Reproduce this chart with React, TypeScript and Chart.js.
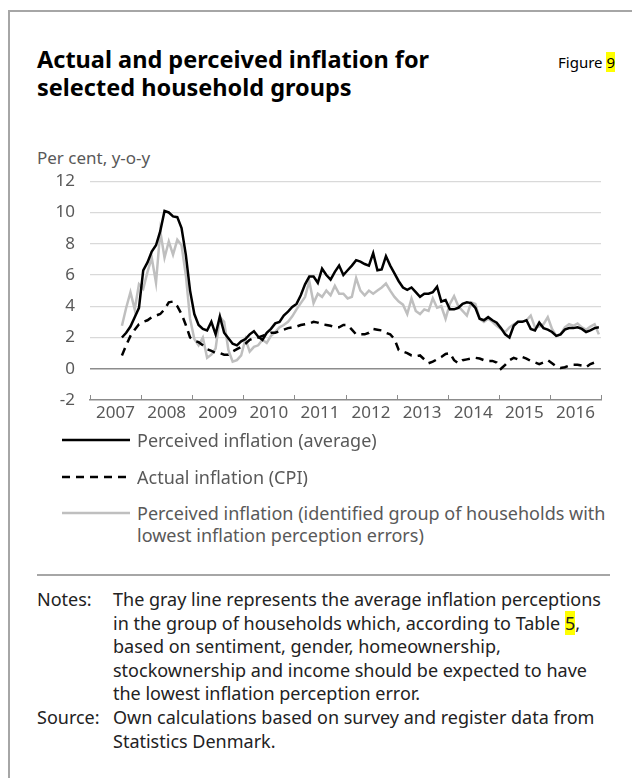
import React, { useEffect, useRef } from 'react';
import { Chart, registerables } from 'chart.js';

Chart.register(...registerables);

// Year labels on the x axis (axis runs Jan 2007 .. Dec 2016, monthly)
const yearLabels = ['2007', '2008', '2009', '2010', '2011', '2012', '2013', '2014', '2015', '2016'];
const monthsOnAxis = 120;
// first observation: Aug 2007 (month index 7 counted from Jan 2007)
const firstMonthIndex = 7;

// Perceived inflation (average), monthly Aug 2007 - Dec 2016
const perceivedAverage = [
  2.0, 2.3, 2.7, 3.3, 3.9,
  6.3, 6.8, 7.5, 7.9, 8.8, 10.1, 10.0, 9.75, 9.7, 9.0, 7.3, 5.0,
  3.5, 2.8, 2.55, 2.45, 3.0, 2.2, 3.35, 2.3, 1.95, 1.6, 1.5, 1.75,
  1.9, 2.2, 2.4, 2.05, 1.85, 2.3, 2.55, 2.9, 3.0, 3.4, 3.65, 3.95,
  4.15, 4.7, 5.4, 5.9, 5.9, 5.5, 6.4, 6.0, 5.7, 6.2, 6.6, 6.0,
  6.3, 6.6, 6.95, 6.85, 6.7, 6.6, 7.4, 6.3, 6.35, 7.2, 6.6, 6.1,
  5.6, 5.2, 5.05, 5.2, 4.9, 4.6, 4.8, 4.8, 4.9, 5.25, 4.3, 4.4,
  3.8, 3.8, 3.9, 4.15, 4.25, 4.2, 3.9, 3.2, 3.1, 3.3, 3.1, 2.95,
  2.6, 2.2, 2.0, 2.75, 3.0, 3.0, 3.1, 2.55, 2.45, 2.95, 2.6, 2.5,
  2.35, 2.1, 2.2, 2.5, 2.6, 2.6, 2.65, 2.55, 2.35, 2.45, 2.6, 2.65,
];

// Actual inflation (CPI), monthly Aug 2007 - Dec 2016
const actualCPI = [
  0.85, 1.5, 2.1, 2.5, 2.85,
  3.0, 3.1, 3.3, 3.4, 3.5, 3.8, 4.25, 4.3, 4.0, 3.5, 2.8, 2.0,
  1.8, 1.7, 1.5, 1.25, 1.15, 1.0, 1.0, 0.9, 0.9, 1.1, 1.25, 1.4,
  1.6, 1.85, 1.95, 2.0, 2.1, 2.2, 2.3, 2.3, 2.4, 2.5, 2.6, 2.65,
  2.7, 2.8, 2.85, 2.9, 3.0, 2.95, 2.85, 2.8, 2.75, 2.65, 2.65, 2.8,
  2.8, 2.5, 2.2, 2.2, 2.2, 2.3, 2.55, 2.5, 2.45, 2.3, 2.2, 1.9,
  1.2, 1.1, 1.0, 0.85, 0.8, 0.85, 0.6, 0.35, 0.45, 0.6, 0.75, 0.95,
  1.0, 0.55, 0.35, 0.55, 0.6, 0.65, 0.7, 0.65, 0.55, 0.5, 0.5, 0.4,
  0.0, 0.25, 0.55, 0.7, 0.6, 0.75, 0.65, 0.5, 0.4, 0.3, 0.4, 0.55,
  0.35, 0.15, 0.05, 0.1, 0.2, 0.25, 0.25, 0.2, 0.1, 0.3, 0.4, 0.45,
];

// Perceived inflation (group with lowest perception errors), monthly Aug 2007 - Dec 2016
const perceivedLowestError = [
  2.75, 3.9, 4.9, 3.8, 5.4,
  5.1, 6.2, 7.1, 5.5, 8.8, 7.1, 8.15, 7.3, 8.25, 7.9, 6.0, 3.2,
  1.9, 1.5, 2.0, 0.7, 0.9, 1.3, 3.3, 3.0, 1.2, 0.45, 0.55, 0.85,
  1.9, 1.1, 1.4, 1.5, 1.85, 1.65, 2.1, 2.35, 2.65, 2.8, 3.0, 3.35,
  3.8, 4.2, 4.6, 5.6, 4.2, 4.8, 4.6, 5.0, 4.7, 5.3, 4.8, 4.8,
  4.5, 4.6, 5.8, 5.0, 4.7, 5.0, 4.8, 5.0, 5.2, 5.45, 5.0, 4.6,
  4.3, 4.1, 3.5, 4.5, 3.7, 3.5, 3.8, 3.7, 4.5, 3.9, 4.0, 3.2,
  4.15, 4.65, 4.0, 3.7, 3.4, 4.25, 4.15, 3.2, 3.0, 3.2, 3.0, 2.75,
  2.55, 2.35, 2.65, 2.85, 3.0, 3.0, 3.1, 3.4, 2.65, 2.7, 2.85, 3.3,
  2.55, 2.1, 2.2, 2.65, 2.85, 2.75, 2.9, 2.65, 2.5, 2.7, 2.85, 2.2,
];

const yMin = -2;
const yMax = 12;
const yStep = 2;

const FONT = "'Noto Sans', 'Open Sans', sans-serif";
const AXIS_TEXT = '#595959';

const toPoints = (values: number[]) =>
  values.map((v, i) => ({ x: firstMonthIndex + i + 0.5, y: v }));

const innerTicks = {
  id: 'innerTicks',
  afterDraw(chart: any) {
    const xs = chart.scales.x;
    const { ctx, chartArea } = chart;
    ctx.save();
    ctx.strokeStyle = '#8c8c8c';
    ctx.lineWidth = 1;
    for (let v = 0; v <= monthsOnAxis; v += 12) {
      const px = Math.round(xs.getPixelForValue(v)) + 0.5;
      ctx.beginPath();
      ctx.moveTo(px, chartArea.bottom);
      ctx.lineTo(px, chartArea.bottom - 5);
      ctx.stroke();
    }
    ctx.restore();
  },
};

function InflationChart() {
  const ref = useRef<HTMLCanvasElement | null>(null);
  useEffect(() => {
    if (!ref.current) return;
    const chart = new Chart(ref.current, {
      type: 'line',
      data: {
        datasets: [
          {
            label: 'Perceived inflation (average)',
            data: toPoints(perceivedAverage),
            borderColor: '#000000',
            borderWidth: 2.5,
            pointRadius: 0,
            tension: 0,
          },
          {
            label: 'Actual inflation (CPI)',
            data: toPoints(actualCPI),
            borderColor: '#000000',
            borderWidth: 2.5,
            borderDash: [8, 6],
            pointRadius: 0,
            tension: 0,
          },
          {
            label: 'Perceived inflation (identified group of households with lowest inflation perception errors)',
            data: toPoints(perceivedLowestError),
            borderColor: '#bfbfbf',
            borderWidth: 2.5,
            pointRadius: 0,
            tension: 0,
          },
        ],
      },
      options: {
        animation: false,
        responsive: false,
        devicePixelRatio: 1,
        layout: { padding: { top: 10, right: 19, left: 0, bottom: 0 } },
        plugins: { legend: { display: false }, tooltip: { enabled: false } },
        scales: {
          x: {
            type: 'linear',
            min: 0,
            max: monthsOnAxis,
            afterBuildTicks: (axis: any) => {
              const t: { value: number }[] = [];
              for (let v = 0; v <= monthsOnAxis; v += 6) t.push({ value: v });
              axis.ticks = t;
            },
            afterFit: (scale: any) => {
              scale.height = 34;
            },
            grid: { display: false, drawTicks: false },
            border: { display: true, color: '#8c8c8c', width: 1.5 },
            ticks: {
              autoSkip: false,
              maxRotation: 0,
              padding: 3,
              color: AXIS_TEXT,
              font: { family: FONT, size: 17 },
              callback: (value: any) => {
                const v = Number(value);
                return v % 12 === 6 ? yearLabels[(v - 6) / 12] : '';
              },
            },
          },
          y: {
            type: 'linear',
            min: yMin,
            max: yMax,
            afterFit: (scale: any) => {
              scale.width = 60;
            },
            border: { display: false },
            grid: {
              drawTicks: false,
              color: (ctx: any) =>
                ctx.tick && ctx.tick.value === 0
                  ? '#8c8c8c'
                  : ctx.tick && ctx.tick.value === yMin
                  ? 'rgba(0,0,0,0)'
                  : '#d9d9d9',
              lineWidth: (ctx: any) => (ctx.tick && ctx.tick.value === 0 ? 1.5 : 1.2),
            },
            ticks: {
              stepSize: yStep,
              padding: 15,
              color: AXIS_TEXT,
              font: { family: FONT, size: 17 },
            },
          },
        },
      },
      plugins: [innerTicks],
    } as any);
    return () => chart.destroy();
  }, []);
  return <canvas ref={ref} width={590} height={278} style={{ position: 'absolute', left: 30, top: 156 }} />;
}

function LegendLine({ kind }: { kind: 'solid' | 'dashed' | 'gray' }) {
  const color = kind === 'gray' ? '#bfbfbf' : '#000000';
  return (
    <svg width={70} height={6} style={{ position: 'absolute', left: 0, top: -3 }}>
      <line
        x1={0}
        y1={3}
        x2={68}
        y2={3}
        stroke={color}
        strokeWidth={2.5}
        strokeDasharray={kind === 'dashed' ? '8 6' : undefined}
      />
    </svg>
  );
}

export default function App() {
  const text: React.CSSProperties = { position: 'absolute', fontFamily: FONT, whiteSpace: 'nowrap' };
  const legendText: React.CSSProperties = { ...text, left: 137, fontSize: 18, color: AXIS_TEXT, lineHeight: '22px' };
  const noteText: React.CSSProperties = { ...text, fontSize: 18, color: '#222222', lineHeight: '23.5px' };
  return (
    <div style={{ position: 'absolute', left: 0, top: 0, width: 632, height: 778, background: '#ffffff', overflow: 'hidden' }}>
      <div style={{ position: 'absolute', left: 8, top: 10, width: 2, height: 768, background: '#a6a6a6' }} />
      <div style={{ position: 'absolute', left: 8, top: 10, width: 624, height: 2, background: '#a6a6a6' }} />

      <div style={{ ...text, left: 37, top: 45, fontSize: 23.5, fontWeight: 700, lineHeight: '28px', color: '#000' }}>
        Actual and perceived inflation for
        <br />
        selected household groups
      </div>
      <div style={{ ...text, left: 558, top: 51, fontSize: 15, color: '#000', lineHeight: '22px' }}>
        Figure <span style={{ background: '#ffff00' }}>9</span>
      </div>

      <div style={{ ...text, left: 37, top: 147, fontSize: 17, color: AXIS_TEXT, lineHeight: '22px' }}>Per cent, y-o-y</div>

      <InflationChart />

      <div style={{ position: 'absolute', left: 62, top: 440 }}>
        <LegendLine kind="solid" />
      </div>
      <div style={{ ...legendText, top: 429 }}>Perceived inflation (average)</div>

      <div style={{ position: 'absolute', left: 62, top: 477 }}>
        <LegendLine kind="dashed" />
      </div>
      <div style={{ ...legendText, top: 466 }}>Actual inflation (CPI)</div>

      <div style={{ position: 'absolute', left: 62, top: 513 }}>
        <LegendLine kind="gray" />
      </div>
      <div style={{ ...legendText, top: 502 }}>
        Perceived inflation (identified group of households with
        <br />
        lowest inflation perception errors)
      </div>

      <div style={{ position: 'absolute', left: 37, top: 574, width: 573, height: 2, background: '#a6a6a6' }} />

      <div style={{ ...noteText, left: 37, top: 588 }}>Notes:</div>
      <div style={{ ...noteText, left: 113, top: 588 }}>
        The gray line represents the average inflation perceptions
        <br />
        in the group of households which, according to Table <span style={{ background: '#ffff00' }}>5</span>,
        <br />
        based on sentiment, gender, homeownership,
        <br />
        stockownership and income should be expected to have
        <br />
        the lowest inflation perception error.
      </div>
      <div style={{ ...noteText, left: 37, top: 706 }}>Source:</div>
      <div style={{ ...noteText, left: 113, top: 706 }}>
        Own calculations based on survey and register data from
        <br />
        Statistics Denmark.
      </div>
    </div>
  );
}
